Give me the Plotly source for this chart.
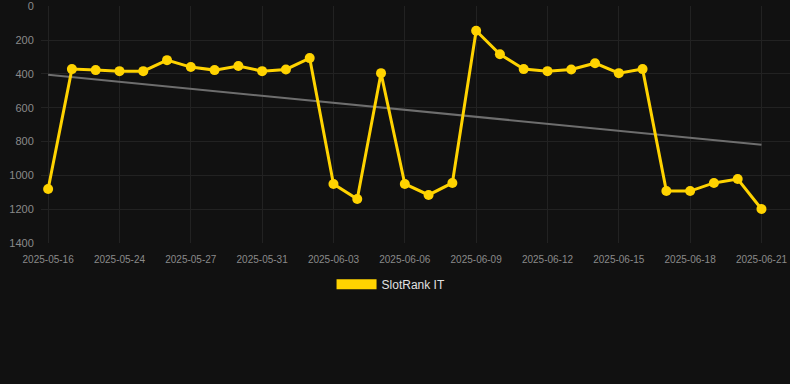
import numpy as np
import plotly.graph_objects as go

dates = ["2025-05-16", "2025-05-19", "2025-05-22", "2025-05-24", "2025-05-25", "2025-05-26",
         "2025-05-27", "2025-05-28", "2025-05-30", "2025-05-31", "2025-06-01", "2025-06-02",
         "2025-06-03", "2025-06-04", "2025-06-05", "2025-06-06", "2025-06-07", "2025-06-08",
         "2025-06-09", "2025-06-10", "2025-06-11", "2025-06-12", "2025-06-13", "2025-06-14",
         "2025-06-15", "2025-06-16", "2025-06-17", "2025-06-18", "2025-06-19", "2025-06-20",
         "2025-06-21"]
ranks = [1081, 372, 378, 384, 384, 319, 360, 378, 354, 384, 374, 307, 1051, 1140, 396,
         1051, 1116, 1045, 145, 284, 372, 384, 374, 337, 396, 372, 1093, 1093, 1045, 1022, 1199]
tick_dates = dates[::3]
y_ticks = [0, 200, 400, 600, 800, 1000, 1200, 1400]
series_name = "SlotRank IT"

idx = np.arange(len(ranks))
slope, intercept = np.polyfit(idx, ranks, 1)
trend = [intercept, intercept + slope * idx[-1]]

fig = go.Figure()
fig.add_trace(go.Scatter(x=[dates[0], dates[-1]], y=trend, mode="lines",
                         line=dict(color="#6e6e6e", width=2), showlegend=False, hoverinfo="skip"))
fig.add_trace(go.Scatter(x=dates, y=ranks, mode="lines+markers",
                         line=dict(color="#FFD300", width=3),
                         marker=dict(color="#FFD300", size=10), showlegend=False))
fig.add_trace(go.Scatter(x=[None], y=[None], mode="lines", name=series_name,
                         line=dict(color="#FFD300", width=10), showlegend=True))

fig.update_layout(
    width=790, height=384,
    paper_bgcolor="#111111", plot_bgcolor="#111111",
    margin=dict(l=41, r=0, t=6, b=141, autoexpand=False),
    font=dict(family="Liberation Sans, Arial, sans-serif", color="#8a8a8a", size=11),
    showlegend=True,
    legend=dict(orientation="h", xref="container", x=0.495, xanchor="center",
                yref="container", y=0.26, yanchor="middle", itemwidth=40,
                font=dict(color="#e0e0e0", size=12), bgcolor="rgba(0,0,0,0)"),
    xaxis=dict(type="category", categoryorder="array", categoryarray=dates,
               tickmode="array", tickvals=tick_dates, ticktext=tick_dates,
               range=[-0.3, 31.2], showgrid=True, gridcolor="#222222", zeroline=False,
               showline=False, tickfont=dict(size=10, color="#8a8a8a"), automargin=False,
               ticks="outside", ticklen=7, tickcolor="rgba(0,0,0,0)"),
    yaxis=dict(range=[1400, -1], tickmode="array", tickvals=y_ticks, automargin=False,
               showgrid=True, gridcolor="#222222", zeroline=False, showline=False,
               tickfont=dict(size=11, color="#8a8a8a"),
               ticks="outside", ticklen=4, tickcolor="rgba(0,0,0,0)"),
)

fig.write_html("out.html")
